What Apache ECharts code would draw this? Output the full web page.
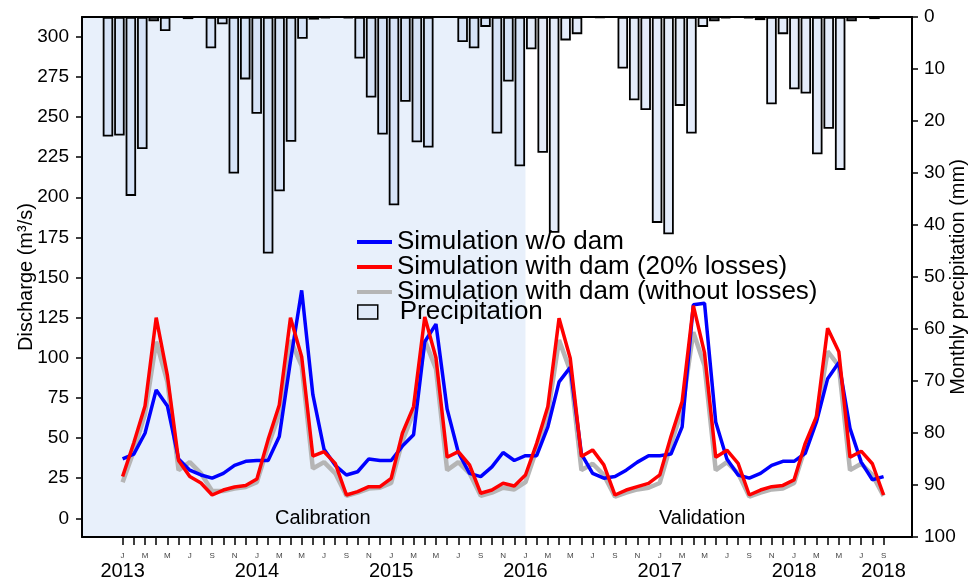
<!DOCTYPE html>
<html><head><meta charset="utf-8">
<script src="https://cdn.jsdelivr.net/npm/echarts@6/dist/echarts.min.js"></script>
<style>html,body{margin:0;padding:0;background:#fff}#c{width:979px;height:584px}</style>
</head><body><div id="c"></div>
<script>
// ---- data ----
const monthLetters = ['J','F','M','A','M','J','J','A','S','O','N','D'];
const startYear = 2013;
// month index 0 = Jan 2013 ... 68 = Sep 2018
const monthTicks = [0,1,2,3,4,5,6,7,8,9,10,11,12,13,14,15,16,17,18,19,20,21,22,23,24,25,26,27,28,29,30,31,32,33,34,35,36,37,38,39,40,41,42,43,44,45,46,47,48,49,50,51,52,53,54,55,56,57,58,59,60,61,62,63,64,65,66,67,68];
const monthLabelTicks = [0,2,4,6,8,10,12,14,16,18,20,22,24,26,28,30,32,34,36,38,40,42,44,46,48,50,52,54,56,58,60,62,64,66,68];
const yearLabelTicks = [0,12,24,36,48,60,68];
const dischargeTicks = [0,25,50,75,100,125,150,175,200,225,250,275,300];
const precipTicks = [0,10,20,30,40,50,60,70,80,90,100];
const calibrationEnd = 36;

const simNoDam = [37,40,53,80,70,37,30,27,25,28,33,35.5,36,36,51,98,142,77,43,33,27,29,37,36,36,45,52,110,121,68,41,28,26,32,41,36,39,39,57,85,94,40,28,25,26,30,35,39,39,40,57,133,134,60,37,27,25,28,33,35.5,35.5,40.5,60,87,97,56,35,24,26];
const simDam20 = [26,47,70,125,89,36,26,22,14.5,17.6,19.5,20.5,24.5,49,70.6,125,100.7,38.7,41.5,34.2,14.5,16.6,19.7,19.7,24.9,53,69.6,125.5,100,38,41.5,33.3,15.6,17.6,21.8,20.1,27,46.7,69.6,124.6,99.7,38.5,42.6,33.3,14.5,17.6,19.7,21.8,27,50.9,72.8,132.5,103,38,42.4,34.2,14.5,17.6,19.7,20.5,23.9,46.7,63.3,118.4,103.8,38,41.8,34,14.5];
const simDamNoLoss = [22.5,42,65,110,85,30,35,28,17,17,18.5,19.5,22.5,45,65,111,95,31,35,28,14,16,18.5,19,22,48,66,111,93,30,35,28,14,16,19,18,22.5,43,65,111,92,30,34,27,13.5,16,18,19,22,46,68,116,95,30,35,28,13.5,16,18,18.5,22,44,62,104,95,30,34,27,14];
const precipitation = [23.0,22.8,34.4,25.4,0.8,2.7,0,0.4,0,6.0,1.4,30.1,12.0,18.6,45.5,33.5,24.0,4.2,0.5,0.2,0,0.2,8.0,15.5,22.6,36.2,16.3,24.1,25.1,0,0,4.8,6.0,1.9,22.4,12.4,28.7,6.2,26.1,41.5,4.5,3.3,0,0.1,0,9.9,16.0,17.9,39.6,41.8,17.1,22.4,1.9,0.8,0.2,0,0.2,0.6,16.8,3.3,13.9,14.7,26.4,21.5,29.4,0.8,0,0.4];

const names = ['Simulation w/o dam','Simulation with dam (20% losses)','Simulation with dam (without losses)','Precipitation'];

// ---- chart ----
const F = '"Liberation Sans", Arial, sans-serif';
const chart = echarts.init(document.getElementById('c'), null, {renderer:'canvas'});
const toPts = arr => arr.map((v,i)=>[monthTicks[i], v]);
const MONTH_MIN = -3.63, MONTH_MAX = 70.54;

const option = {
  animation:false,
  textStyle:{fontFamily:F},
  grid:{left:82,right:67,top:17,bottom:47, containLabel:false, outerBoundsMode:'none'},
  xAxis:[
    {type:'value', min:MONTH_MIN, max:MONTH_MAX, position:'bottom', z:10,
     axisLine:{show:true, onZero:false, lineStyle:{color:'#000',width:2}},
     axisTick:{show:true, customValues:monthTicks, length:8, lineStyle:{color:'#000',width:1.5}},
     axisLabel:{show:true, customValues:monthLabelTicks, margin:15, hideOverlap:false,
       showMinLabel:true, showMaxLabel:true, fontSize:8, color:'#444', fontFamily:F,
       formatter:function(v){ return monthLetters[v % 12]; }},
     splitLine:{show:false}},
    {type:'value', min:-2.27, max:70.28, position:'top', z:10,
     axisLine:{show:true, onZero:false, lineStyle:{color:'#000',width:2}},
     axisTick:{show:false}, axisLabel:{show:false}, splitLine:{show:false}},
    {type:'value', min:MONTH_MIN, max:MONTH_MAX, position:'bottom', offset:0, z:10,
     axisLine:{show:false, onZero:false}, axisTick:{show:false}, splitLine:{show:false},
     axisLabel:{show:true, customValues:yearLabelTicks, margin:24, hideOverlap:false,
       showMinLabel:true, showMaxLabel:true, fontSize:20, color:'#000', fontFamily:F,
       formatter:function(v){ return String(startYear + Math.floor(v/12)); }}}
  ],
  yAxis:[
    {type:'value', min:-11.65, max:312.3, position:'left', z:10,
     name:'Discharge (m³/s)', nameLocation:'middle', nameGap:46, nameRotate:90, nameMoveOverlap:false,
     nameTextStyle:{fontSize:20,color:'#000',fontFamily:F},
     axisLine:{show:true, onZero:false, lineStyle:{color:'#000',width:2}},
     axisTick:{show:true, customValues:dischargeTicks, length:6, lineStyle:{color:'#000',width:1.5}},
     axisLabel:{show:true, customValues:dischargeTicks, margin:13, fontSize:19, color:'#000', fontFamily:F},
     splitLine:{show:false}},
    {type:'value', min:0, max:100, inverse:true, position:'right', z:10,
     name:'Monthly precipitation (mm)', nameLocation:'middle', nameGap:36, nameRotate:90, nameMoveOverlap:false,
     nameTextStyle:{fontSize:20,color:'#000',fontFamily:F},
     axisLine:{show:true, onZero:false, lineStyle:{color:'#000',width:2}},
     axisTick:{show:true, customValues:precipTicks, length:6, lineStyle:{color:'#000',width:1.5}},
     axisLabel:{show:true, customValues:precipTicks, margin:12, fontSize:19, color:'#000', fontFamily:F},
     splitLine:{show:false}}
  ],
  legend:[
    {left:357, top:229, orient:'vertical', padding:0, itemWidth:35, itemHeight:4, itemGap:-1, icon:'rect',
     selectedMode:false,
     textStyle:{fontSize:26, color:'#000', fontFamily:F},
     data:[names[0],names[1],names[2]]},
    {left:357, top:299, orient:'vertical', padding:0, itemWidth:20, itemHeight:14, icon:'rect', selectedMode:false,
     textStyle:{fontSize:26, color:'#000', fontFamily:F, padding:[0,0,0,17]},
     data:[{name:names[3], itemStyle:{color:'#dfe9f8', borderColor:'#000', borderWidth:1.5}}]}
  ],
  graphic:[
    {type:'text', z:100, left:275, top:508, style:{text:'Calibration', font:'20px '+F, fill:'#000'}},
    {type:'text', z:100, left:659, top:508, style:{text:'Validation', font:'20px '+F, fill:'#000'}}
  ],
  series:[
    {name:names[3], type:'bar', xAxisIndex:1, yAxisIndex:1, barWidth:10.5, z:2,
     itemStyle:{color:'rgba(184,206,241,0.38)', borderColor:'#000', borderWidth:1.8},
     data: precipitation.map((v,i)=>[i,v])},
    {name:names[2], type:'line', xAxisIndex:0, yAxisIndex:0, z:3, showSymbol:false, symbol:'none',
     color:'#b5b5b5', lineStyle:{color:'#b5b5b5', width:4.5},
     data: toPts(simDamNoLoss),
     markArea:{silent:true, z:1, itemStyle:{color:'#e8f0fb'},
       data:[[{xAxis:MONTH_MIN},{xAxis:calibrationEnd}]]}},
    {name:names[0], type:'line', xAxisIndex:0, yAxisIndex:0, z:4, showSymbol:false, symbol:'none',
     color:'#0000ff', lineStyle:{color:'#0000ff', width:3.5},
     data: toPts(simNoDam)},
    {name:names[1], type:'line', xAxisIndex:0, yAxisIndex:0, z:5, showSymbol:false, symbol:'none',
     color:'#ff0000', lineStyle:{color:'#ff0000', width:3.5},
     data: toPts(simDam20)}
  ]
};
chart.setOption(option);
</script>
</body></html>
